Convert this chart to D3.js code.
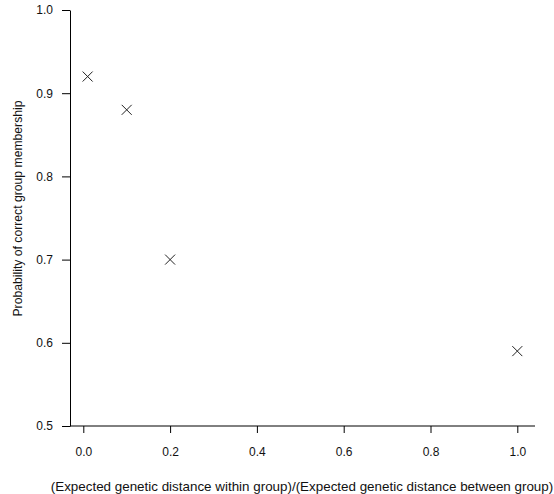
<!DOCTYPE html>
<html>
<head>
<meta charset="utf-8">
<script src="https://cdn.jsdelivr.net/npm/d3@7"></script>
<style>
  body { margin: 0; background: #fff; }
  svg { display: block; font-family: "Liberation Sans", Arial, sans-serif; }
</style>
</head>
<body>
<div id="chart"></div>
<script>
// data
const ratio = [0.01, 0.1, 0.2, 1.0];
const probCorrect = [0.92, 0.88, 0.70, 0.59];
const xTicks = [0, 0.2, 0.4, 0.6, 0.8, 1.0];
const yTicks = [0.5, 0.6, 0.7, 0.8, 0.9, 1.0];
const xTitle = "(Expected genetic distance within group)/(Expected genetic distance between group)";
const yTitle = "Probability of correct group membership";

const width = 554, height = 494;

const svg = d3.select("#chart")
    .append("svg")
    .attr("width", width)
    .attr("height", height);

// x: 0 -> 83.3, 1 -> 517.3 ; axis line runs 70..535
const x = d3.scaleLinear().domain([0, 1]).range([83.3, 517.3]);
const y = d3.scaleLinear().domain([0.5, 1.0]).range([426, 10]);

const xLeft = x.invert(70), xRight = x.invert(535);

// x axis
const gx = svg.append("g")
    .attr("transform", `translate(0, ${y(0.5)})`)
    .call(d3.axisBottom(x).tickValues(xTicks).tickFormat(d3.format(".1f")).tickSize(7).tickPadding(14).tickSizeOuter(0));
gx.select(".domain").remove();
gx.append("line")
    .attr("x1", x(xLeft)).attr("x2", x(xRight))
    .attr("stroke", "#000");

// y axis
const gy = svg.append("g")
    .attr("transform", `translate(${x(xLeft)}, 0)`)
    .call(d3.axisLeft(y).tickValues(yTicks).tickFormat(d3.format(".1f")).tickSize(8).tickPadding(9).tickSizeOuter(0));

svg.selectAll(".tick text")
    .style("font-size", "12px")
    .style("fill", "#111");
svg.selectAll(".tick line").attr("stroke", "#000");
svg.selectAll(".domain").attr("stroke", "#000");

// points drawn as crosses
const pts = ratio.map((r, i) => ({ r: r, p: probCorrect[i] }));
svg.append("g")
    .selectAll("path")
    .data(pts)
    .join("path")
    .attr("transform", d => `translate(${x(d.r)}, ${y(d.p)})`)
    .attr("d", "M-5,-5L5,5M-5,5L5,-5")
    .attr("stroke", "#222")
    .attr("stroke-width", 1)
    .attr("fill", "none");

// axis titles
svg.append("text")
    .attr("x", 302)
    .attr("y", 491)
    .attr("text-anchor", "middle")
    .style("font-size", "13.4px")
    .style("fill", "#111")
    .text(xTitle);

svg.append("text")
    .attr("transform", "translate(22, 208.5) rotate(-90)")
    .attr("text-anchor", "middle")
    .style("font-size", "12.2px")
    .style("fill", "#111")
    .text(yTitle);
</script>
</body>
</html>
